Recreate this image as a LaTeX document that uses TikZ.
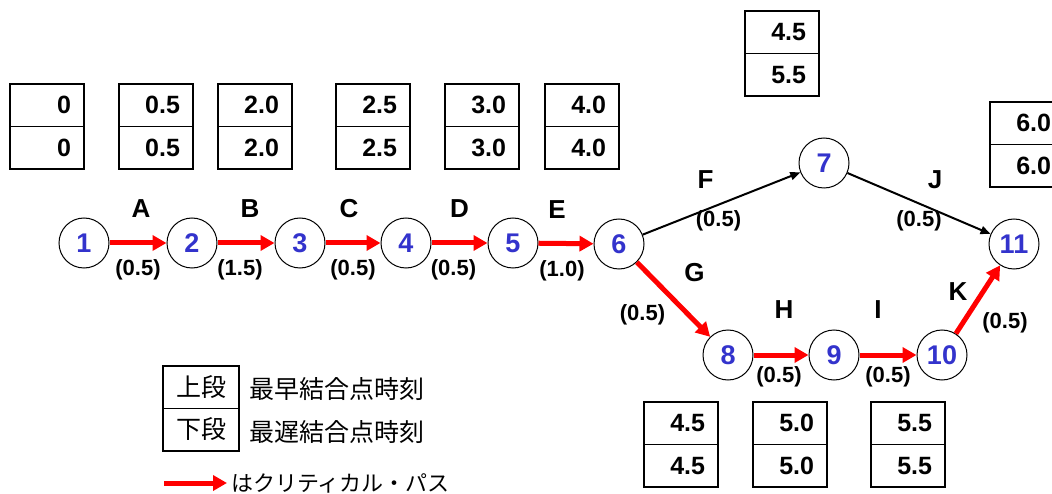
\documentclass[tikz,border=0pt]{standalone}
\usepackage{fontspec}
\setmainfont{Liberation Sans}
\newfontfamily\jp{Noto Sans CJK JP}
\usetikzlibrary{arrows.meta}
\definecolor{numblue}{RGB}{51,51,204}

\tikzset{
  event/.style={circle,draw,line width=1pt,minimum size=50pt,inner sep=0pt,
    font=\fontsize{27pt}{27pt}\selectfont\bfseries,text=numblue},
  cell/.style={draw,line width=1.5pt,minimum height=42.5pt,text width=48pt,
    inner xsep=13pt,align=right,font=\fontsize{25pt}{25pt}\selectfont\bfseries},
  keycell/.style={draw,line width=1.5pt,minimum width=76pt,minimum height=42.5pt,
    font=\jp\fontsize{25pt}{25pt}\selectfont},
  crit/.style={red,line width=5pt,-{Triangle[length=14pt,width=15pt]}},
  norm/.style={black,line width=2pt,-{Triangle[length=10pt,width=8pt]}},
  act/.style={text=black,font=\fontsize{26pt}{26pt}\selectfont\bfseries},
  dur/.style={text=black,font=\fontsize{22pt}{22pt}\selectfont\bfseries},
}

\begin{document}
\begin{tikzpicture}[x=1pt,y=-1pt]
\useasboundingbox (0,0) rectangle (1052,494);

% events
\node[event] (n1) at (84,243) {1};
\node[event] (n2) at (192,243) {2};
\node[event] (n3) at (300,243) {3};
\node[event] (n4) at (406,243) {4};
\node[event] (n5) at (513,243) {5};
\node[event] (n6) at (619,244) {6};
\node[event] (n7) at (824,163) {7};
\node[event] (n8) at (728,355) {8};
\node[event] (n9) at (834,355) {9};
\node[event] (n10) at (942,355) {10};
\node[event] (n11) at (1014,244) {11};

% earliest / latest times above and below the events
\foreach \k/\bx/\by/\vE/\vL in {1/10/84/0/0, 2/119/84/0.5/0.5, 3/218/84/2.0/2.0,
    4/336/84/2.5/2.5, 5/445/84/3.0/3.0, 6/545/84/4.0/4.0, 7/745/11/4.5/5.5,
    8/644/402/4.5/4.5, 9/753/402/5.0/5.0, 10/871/402/5.5/5.5, 11/990/102/6.0/6.0}{
  \node[cell] (e\k) at (\bx+37,\by+21.25) {\vE};
  \node[cell] (l\k) at (\bx+37,\by+63.75) {\vL};
}

% activities
\draw[crit] (n1) -- (n2) node[act,midway,xshift=3pt,yshift=34pt]{A} node[dur,midway,yshift=-27pt]{(0.5)};
\draw[crit] (n2) -- (n3) node[act,midway,xshift=4pt,yshift=34pt]{B} node[dur,midway,xshift=-6pt,yshift=-27pt]{(1.5)};
\draw[crit] (n3) -- (n4) node[act,midway,xshift=-4pt,yshift=34pt]{C} node[dur,midway,yshift=-27pt]{(0.5)};
\draw[crit] (n4) -- (n5) node[act,midway,yshift=34pt]{D} node[dur,midway,xshift=-6pt,yshift=-27pt]{(0.5)};
\draw[crit] (n5) -- (n6) node[act,midway,xshift=-9pt,yshift=34pt]{E} node[dur,midway,xshift=-4pt,yshift=-27pt]{(1.0)};
\draw[norm] (n6) -- (n7) node[act,midway,xshift=-16pt,yshift=24pt]{F} node[dur,midway,xshift=-3pt,yshift=-17pt]{(0.5)};
\draw[norm] (n7) -- (n11) node[act,midway,xshift=16pt,yshift=24pt]{J} node[dur,midway,yshift=-17pt]{(0.5)};
\draw[crit] (n6) -- (n8) node[act,midway,xshift=21pt,yshift=27pt]{G} node[dur,midway,xshift=-31pt,yshift=-15pt]{(0.5)};
\draw[crit] (n8) -- (n9) node[act,midway,xshift=3pt,yshift=45pt]{H} node[dur,midway,xshift=-2pt,yshift=-22pt]{(0.5)};
\draw[crit] (n9) -- (n10) node[act,midway,xshift=-10pt,yshift=45pt]{I} node[dur,midway,yshift=-22pt]{(0.5)};
\draw[crit] (n10) -- (n11) node[act,midway,xshift=-20pt,yshift=8pt]{K} node[dur,midway,xshift=27pt,yshift=-23pt]{(0.5)};

% key
\node[keycell] (kU) at (201,387) {上段};
\node[keycell] (kL) at (201,429.5) {下段};
\node[anchor=west,font=\jp\fontsize{25pt}{25pt}\selectfont] (tE) at (246,389) {最早結合点時刻};
\node[anchor=west,font=\jp\fontsize{25pt}{25pt}\selectfont] (tL) at (246,432) {最遅結合点時刻};
\coordinate (cs) at (164,483);
\node[anchor=west,inner xsep=4pt,font=\jp\fontsize{22pt}{22pt}\selectfont] (tC) at (227,483) {はクリティカル・パス};
\draw[crit] (cs) -- (tC.west);
\end{tikzpicture}
\end{document}
